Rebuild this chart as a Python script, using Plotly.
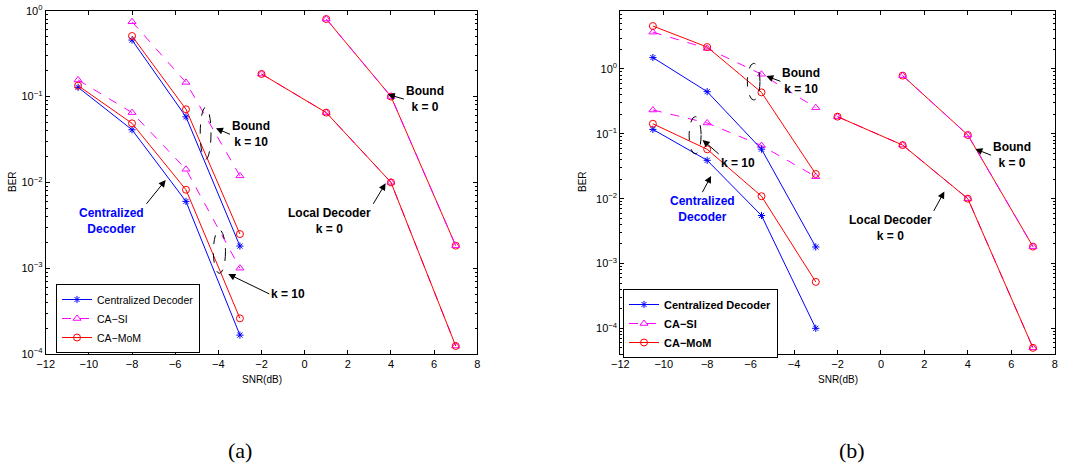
import plotly.graph_objects as go

# ---------------- data ----------------
snr_4pts = [-10.5, -8, -5.5, -3]
snr_3pts = [-8, -5.5, -3]
snr_local = [-2, 1, 4, 7]
snr_bound = [1, 4, 7]

# panel (a)
a_cent_k10 = [0.128, 0.041, 0.0060, 1.66e-4]
a_casi_k10 = [0.156, 0.065, 0.0142, 1.0e-3]
a_camom_k10 = [0.134, 0.0487, 0.0082, 2.6e-4]
a_cent_bound10 = [0.455, 0.058, 1.81e-3]
a_casi_bound10 = [0.744, 0.146, 0.0119]
a_camom_bound10 = [0.507, 0.071, 2.5e-3]
a_local_k0 = [0.183, 0.065, 0.0100, 1.24e-4]
a_bound_k0 = [0.80, 0.100, 1.83e-3]

# panel (b)
b_cent_k10 = [0.117, 0.039, 0.0055, 1.0e-4]
b_casi_k10 = [0.233, 0.147, 0.066, 0.0218]
b_camom_k10 = [0.143, 0.0577, 0.0109, 5.2e-4]
b_cent_bound10 = [1.5, 0.447, 0.058, 1.8e-3]
b_casi_bound10 = [3.7, 2.08, 0.83, 0.253]
b_camom_bound10 = [4.6, 2.18, 0.436, 0.024]
b_local_k0 = [0.184, 0.067, 0.0100, 5.0e-5]
b_bound_k0 = [0.79, 0.096, 1.82e-3]

series_names = ["Centralized Decoder", "CA\u2212SI", "CA\u2212MoM"]
x_ticks = [-12, -10, -8, -6, -4, -2, 0, 2, 4, 6, 8]
x_tick_text = [str(v).replace("-", "\u2212") for v in x_ticks]
y_tick_vals = [1e-4, 1e-3, 1e-2, 1e-1, 1e0]
y_tick_text = ["10<sup>\u22124</sup>", "10<sup>\u22123</sup>", "10<sup>\u22122</sup>",
               "10<sup>\u22121</sup>", "10<sup>0</sup>"]

BLUE, MAG, RED = "#0000FF", "#FF00FF", "#FF0000"
FONT = "Arial, Liberation Sans, Helvetica, sans-serif"

fig = go.Figure()

styles = {
    "cent": dict(color=BLUE, dash="solid", symbol="asterisk-open", name=series_names[0], rank=1),
    "casi": dict(color=MAG, dash="dash", symbol="triangle-up-open", name=series_names[1], rank=2),
    "camom": dict(color=RED, dash="solid", symbol="circle-open", name=series_names[2], rank=3),
}


def add(kind, x, y, xa, ya, leg, show):
    s = styles[kind]
    fig.add_trace(go.Scatter(
        x=x, y=y, mode="lines+markers", xaxis=xa, yaxis=ya,
        name=s["name"], legendgroup=kind + leg, showlegend=show, legend=leg,
        legendrank=s["rank"],
        line=dict(color=s["color"], width=1, dash=s["dash"]),
        marker=dict(symbol=s["symbol"], size=7 if kind != "cent" else 6,
                    color=s["color"], line=dict(color=s["color"], width=1)),
    ))


# panel (a)
add("cent", snr_4pts, a_cent_k10, "x", "y", "legend", True)
add("casi", snr_4pts, a_casi_k10, "x", "y", "legend", True)
add("camom", snr_4pts, a_camom_k10, "x", "y", "legend", True)
add("cent", snr_3pts, a_cent_bound10, "x", "y", "legend", False)
add("casi", snr_3pts, a_casi_bound10, "x", "y", "legend", False)
add("camom", snr_3pts, a_camom_bound10, "x", "y", "legend", False)
add("casi", snr_local, a_local_k0, "x", "y", "legend", False)
add("camom", snr_local, a_local_k0, "x", "y", "legend", False)
add("camom", snr_bound, a_bound_k0, "x", "y", "legend", False)
add("casi", snr_bound, a_bound_k0, "x", "y", "legend", False)

# panel (b)
add("cent", snr_4pts, b_cent_k10, "x2", "y2", "legend2", True)
add("casi", snr_4pts, b_casi_k10, "x2", "y2", "legend2", True)
add("camom", snr_4pts, b_camom_k10, "x2", "y2", "legend2", True)
add("cent", snr_4pts, b_cent_bound10, "x2", "y2", "legend2", False)
add("casi", snr_4pts, b_casi_bound10, "x2", "y2", "legend2", False)
add("camom", snr_4pts, b_camom_bound10, "x2", "y2", "legend2", False)
add("casi", snr_local, b_local_k0, "x2", "y2", "legend2", False)
add("camom", snr_local, b_local_k0, "x2", "y2", "legend2", False)
add("camom", snr_bound, b_bound_k0, "x2", "y2", "legend2", False)
add("casi", snr_bound, b_bound_k0, "x2", "y2", "legend2", False)

W, H = 1074, 468
y_dom = [1 - 354 / H, 1 - 10.7 / H]
xa_dom = [45.7 / W, 477.3 / W]
xb_dom = [620.3 / W, 1054.7 / W]

minor_vals = [m * 10 ** e for e in range(-5, 1) for m in range(2, 10)]

axis_common = dict(showline=True, linecolor="black", linewidth=1, mirror="ticks",
                   ticks="inside", ticklen=4, tickcolor="black", showgrid=False,
                   zeroline=False, automargin=False,
                   tickfont=dict(family=FONT, size=11, color="black"))

fig.update_layout(
    width=W, height=H, margin=dict(l=0, r=0, t=0, b=0),
    paper_bgcolor="white", plot_bgcolor="white",
    xaxis=dict(domain=xa_dom, anchor="y", range=[-12, 8], tickvals=x_ticks,
               ticktext=x_tick_text, **axis_common),
    yaxis=dict(domain=y_dom, anchor="x", type="log", range=[-4, 0],
               tickvals=y_tick_vals, ticktext=y_tick_text,
               minor=dict(tickvals=minor_vals, ticks="inside", ticklen=2, tickcolor="black"),
               **axis_common),
    xaxis2=dict(domain=xb_dom, anchor="y2", range=[-12, 8], tickvals=x_ticks,
                ticktext=x_tick_text, **axis_common),
    yaxis2=dict(domain=y_dom, anchor="x2", type="log", range=[-4.396, 0.899],
                tickvals=y_tick_vals, ticktext=y_tick_text,
                minor=dict(tickvals=minor_vals, ticks="inside", ticklen=2, tickcolor="black"),
                **axis_common),
    legend=dict(x=56 / W, y=1 - 284 / H, xanchor="left", yanchor="top",
                bgcolor="white", bordercolor="black", borderwidth=1,
                font=dict(family=FONT, size=10.5, color="black"),
                tracegroupgap=0, itemwidth=30),
    legend2=dict(x=623 / W, y=1 - 289 / H, xanchor="left", yanchor="top",
                 bgcolor="white", bordercolor="black", borderwidth=1,
                 font=dict(family=FONT, size=11, color="black", weight="bold"),
                 tracegroupgap=0, itemwidth=30),
    showlegend=True,
)

# ellipses (y given as log10 exponents, converted to data values)
ell = dict(type="circle", line=dict(color="black", width=1, dash="dash"), layer="above")
for xr, yr, x0, x1, e0, e1 in [("x", "y", -4.84, -4.34, -1.732, -1.126),
                               ("x", "y", -4.23, -3.67, -3.06, -2.555),
                               ("x2", "y2", -6.15, -5.57, -0.478, 0.087),
                               ("x2", "y2", -8.83, -8.28, -1.31, -0.735)]:
    fig.add_shape(xref=xr, yref=yr, x0=x0, x1=x1, y0=10 ** e0, y1=10 ** e1, **ell)


def note(xr, yr, txt, head, tail, xanchor, yanchor, color="black"):
    """Label placed at the arrow tail, with its arrow pointing at head (y in log10)."""
    fig.add_annotation(xref=xr, yref=yr, axref=xr, ayref=yr,
                       x=head[0], y=head[1], ax=tail[0], ay=tail[1],
                       text=txt, showarrow=True, arrowhead=2, arrowsize=1.4,
                       arrowwidth=1, arrowcolor="black", standoff=0,
                       xanchor=xanchor, yanchor=yanchor, align="center",
                       font=dict(family=FONT, size=12, color=color, weight="bold"))


# panel (a) annotations
note("x", "y", "Bound<br>k = 10", (-4.11, -1.371), (-3.46, -1.44), "left", "middle")
note("x", "y", "k = 10", (-3.54, -3.068), (-1.64, -3.30), "left", "middle")
note("x", "y", "Centralized<br>Decoder", (-6.44, -1.973), (-7.33, -2.25), "right", "top", BLUE)
note("x", "y", "Local Decoder<br>k = 0", (3.75, -2.01), (3.18, -2.25), "right", "top")
note("x", "y", "Bound<br>k = 0", (3.85, -0.975), (4.6, -1.03), "left", "middle")

# panel (b) annotations
note("x2", "y2", "Bound<br>k = 10", (-5.28, -0.108), (-4.63, -0.19), "left", "middle")
note("x2", "y2", "k = 10", (-8.21, -1.095), (-7.47, -1.31), "left", "top")
note("x2", "y2", "Centralized<br>Decoder", (-7.82, -1.65), (-8.22, -1.90), "center", "top", BLUE)
note("x2", "y2", "Local Decoder<br>k = 0", (2.92, -1.89), (2.43, -2.19), "right", "top")
note("x2", "y2", "Bound<br>k = 0", (4.35, -1.234), (5.07, -1.33), "left", "middle")

# axis titles
for cx in [(xa_dom[0] + xa_dom[1]) / 2, (xb_dom[0] + xb_dom[1]) / 2]:
    fig.add_annotation(xref="paper", yref="paper", x=cx, y=1 - 379 / H, text="SNR(dB)",
                       showarrow=False, font=dict(family=FONT, size=10, color="black"),
                       xanchor="center", yanchor="middle")
for lx in [13 / W, 583 / W]:
    fig.add_annotation(xref="paper", yref="paper", x=lx, y=1 - 182 / H, text="BER",
                       textangle=-90, showarrow=False,
                       font=dict(family=FONT, size=10, color="black"),
                       xanchor="center", yanchor="middle")

# captions
for cx, t in [(240 / W, "(a)"), (852 / W, "(b)")]:
    fig.add_annotation(xref="paper", yref="paper", x=cx, y=1 - 450 / H, text=t,
                       showarrow=False, font=dict(family="Liberation Serif, DejaVu Serif, serif",
                                                  size=22, color="black"),
                       xanchor="center", yanchor="middle")

fig.write_html("out.html")
